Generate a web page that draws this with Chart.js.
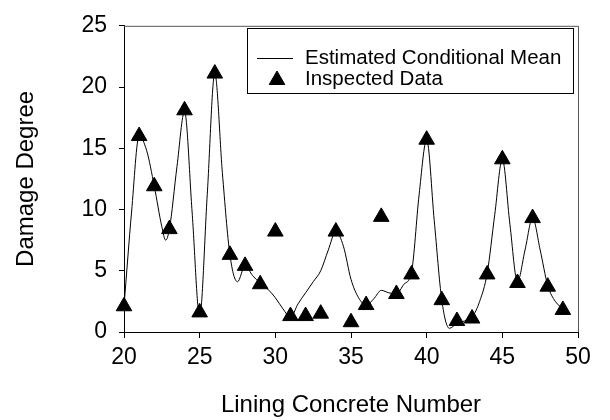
<!DOCTYPE html>
<html lang="en">
<head>
    <meta charset="UTF-8">
    <title>Damage Degree</title>
    <script src="https://cdn.jsdelivr.net/npm/chart.js"></script>
    <style>
        body, html {
            margin: 0;
            padding: 0;
            background: #fff;
            overflow: hidden;
        }
        #wrap {
            width: 610px;
            height: 420px;
        }
    </style>
</head>
<body>
<div id="wrap"><canvas id="chart" width="610" height="420"></canvas></div>
<script>
    // inspected data, one per lining concrete number
    const liningNumbers = [20, 21, 22, 23, 24, 25, 26, 27, 28, 29, 30, 31, 32, 33, 34,
                           35, 36, 37, 38, 39, 40, 41, 42, 43, 44, 45, 46, 47, 48, 49];
    const inspectedDamage = [2.1, 16.0, 11.9, 8.4, 18.1, 1.6, 21.1, 6.3, 5.4, 3.9, 8.2, 1.3, 1.3, 1.5, 8.2,
                             0.8, 2.2, 9.4, 3.1, 4.7, 15.7, 2.6, 0.9, 1.1, 4.7, 14.1, 4.0, 9.3, 3.7, 1.8];

    // estimated conditional mean curve
    const meanX = [20, 20.5, 21, 21.5, 22, 22.5, 22.75, 23, 23.5, 24, 24.5, 25, 25.5, 26, 26.5,
                   27, 27.5, 28, 28.5, 29, 29.5, 30, 30.5, 31, 31.5, 32, 32.5, 33, 33.5, 34,
                   34.5, 35, 35.5, 36, 36.5, 37, 37.5, 38, 38.5, 39, 39.5, 40, 40.5, 41, 41.5,
                   42, 42.5, 43, 43.5, 44, 44.5, 45, 45.5, 46, 46.5, 47, 47.5, 48, 48.5, 49];
    const meanY = [2.1, 9.8, 16.0, 14.8, 11.9, 8.6, 7.5, 8.4, 13.5, 18.0, 9.8, 1.3, 11.2, 21.1, 13.0,
                   6.3, 4.1, 5.4, 4.6, 4.0, 3.5, 2.8, 1.9, 1.2, 2.3, 3.2, 4.1, 5.0, 6.7, 8.2,
                   7.0, 4.3, 2.8, 2.2, 2.7, 3.4, 3.2, 3.1, 3.9, 4.9, 11.2, 15.7, 9.1, 2.6, 0.3,
                   0.7, 0.9, 1.2, 2.5, 4.8, 9.6, 14.1, 8.8, 4.1, 6.7, 9.3, 6.7, 3.8, 2.5, 1.9];

    const legendLabels = ['Estimated Conditional Mean', 'Inspected Data'];

    const FONT = "'Liberation Sans', Arial, sans-serif";

    // frame on top/right + legend box inside the plot
    const framePlugin = {
        id: 'frameAndLegend',
        afterDraw(chart) {
            const ctx = chart.ctx;
            const a = chart.chartArea;
            ctx.save();
            ctx.strokeStyle = '#555';
            ctx.lineWidth = 1;
            ctx.beginPath();
            ctx.moveTo(a.left, a.top + 0.5);
            ctx.lineTo(a.right + 0.5, a.top + 0.5);
            ctx.lineTo(a.right + 0.5, a.bottom);
            ctx.stroke();

            // legend
            ctx.strokeStyle = '#000';
            ctx.strokeRect(247.5, 28.5, 326, 65);
            ctx.beginPath();
            ctx.moveTo(257, 58.5);
            ctx.lineTo(293, 58.5);
            ctx.stroke();
            Chart.helpers.drawPoint(ctx, {
                pointStyle: 'triangle', radius: 9, borderWidth: 1
            }, 277, 80);
            ctx.fillStyle = '#000';
            ctx.font = '20.5px ' + FONT;
            ctx.textBaseline = 'middle';
            ctx.fillText(legendLabels[0], 305, 58);
            ctx.fillText(legendLabels[1], 305, 79);
            ctx.restore();
        }
    };

    function initChart() {
        const ctx = document.getElementById('chart').getContext('2d');
        ctx.fillStyle = '#000';
        new Chart(ctx, {
            type: 'scatter',
            data: {
                datasets: [
                    {
                        label: legendLabels[1],
                        data: liningNumbers.map((x, i) => ({ x: x, y: inspectedDamage[i] })),
                        pointStyle: 'triangle',
                        pointRadius: 9,
                        pointBackgroundColor: '#000',
                        pointBorderColor: '#000',
                        pointBorderWidth: 1,
                        clip: false,
                        order: 1
                    },
                    {
                        label: legendLabels[0],
                        data: meanX.map((x, i) => ({ x: x, y: meanY[i] })),
                        showLine: true,
                        borderColor: '#000',
                        borderWidth: 1,
                        pointRadius: 0,
                        cubicInterpolationMode: 'monotone',
                        order: 2
                    }
                ]
            },
            options: {
                responsive: false,
                animation: false,
                layout: { padding: { left: 0, right: 32, top: 14, bottom: 0 } },
                plugins: {
                    legend: { display: false },
                    tooltip: { enabled: false }
                },
                scales: {
                    x: {
                        type: 'linear',
                        min: 20,
                        max: 50,
                        afterFit: function(scale) { scale.height = 88; },
                        border: { color: '#000', width: 1 },
                        grid: { drawOnChartArea: false, tickLength: 6, color: '#000' },
                        ticks: {
                            stepSize: 5,
                            padding: 6,
                            color: '#000',
                            font: { family: FONT, size: 23 }
                        },
                        title: {
                            display: true,
                            text: 'Lining Concrete Number',
                            color: '#000',
                            font: { family: FONT, size: 24 },
                            padding: { top: 6, bottom: 0 }
                        }
                    },
                    y: {
                        min: 0,
                        max: 25,
                        afterFit: function(scale) { scale.width = 124; },
                        border: { color: '#000', width: 1 },
                        grid: { drawOnChartArea: false, tickLength: 5, color: '#000' },
                        ticks: {
                            stepSize: 5,
                            padding: 12,
                            color: '#000',
                            font: { family: FONT, size: 23 }
                        },
                        title: {
                            display: true,
                            text: 'Damage Degree',
                            color: '#000',
                            font: { family: FONT, size: 24 },
                            padding: { top: 12, bottom: 0 }
                        }
                    }
                }
            },
            plugins: [framePlugin]
        });
    }

    document.addEventListener('DOMContentLoaded', initChart);
</script>
</body>
</html>
